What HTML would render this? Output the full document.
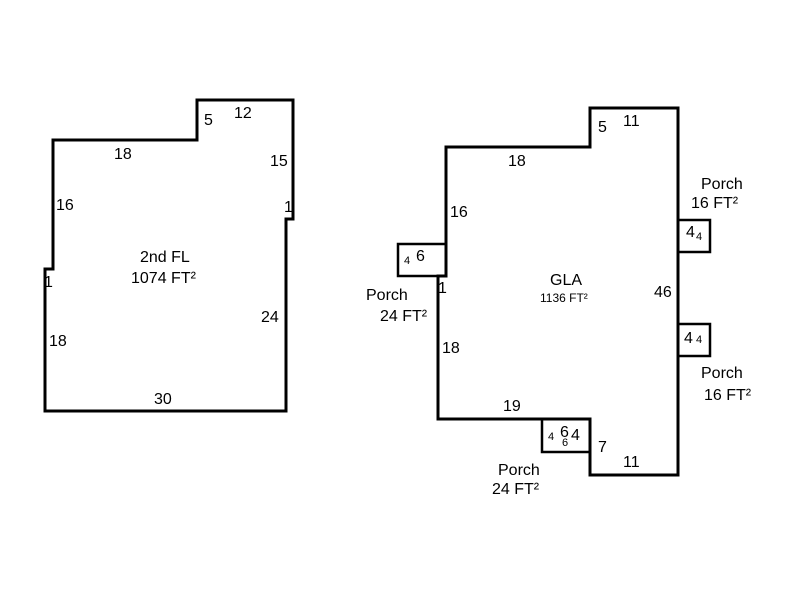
<!DOCTYPE html>
<html><head><style>
body{margin:0;background:#fff;}
svg text{font-family:"Liberation Sans",Arial,sans-serif;font-size:16px;fill:#000;}
</style></head><body>
<svg width="800" height="600" xmlns="http://www.w3.org/2000/svg">
<g fill="none" stroke="#000" stroke-width="3">
<polygon points="45,411 45,269 53,269 53,140 197,140 197,100 293,100 293,219 286,219 286,411"/>
<polygon points="446,147 590,147 590,108 678,108 678,475 590,475 590,419 438,419 438,276 446,276"/>
<rect x="398" y="244" width="48" height="32" stroke-width="2.5"/>
<rect x="678" y="220" width="32" height="32" stroke-width="2.5"/>
<rect x="678" y="324" width="32" height="32" stroke-width="2.5"/>
<rect x="542" y="419" width="48" height="33" stroke-width="2.5"/>
</g>
<text x="204" y="125">5</text>
<text x="234" y="118">12</text>
<text x="114" y="159">18</text>
<text x="270" y="166">15</text>
<text x="284" y="212">1</text>
<text x="56" y="210">16</text>
<text x="44" y="287">1</text>
<text x="140" y="262">2nd FL</text>
<text x="131" y="283">1074 FT²</text>
<text x="261" y="322">24</text>
<text x="49" y="346">18</text>
<text x="154" y="404">30</text>

<text x="598" y="132">5</text>
<text x="623" y="126">11</text>
<text x="508" y="166">18</text>
<text x="450" y="217">16</text>
<text x="404" y="264" style="font-size:11px">4</text>
<text x="416" y="261">6</text>
<text x="438" y="293">1</text>
<text x="366" y="300">Porch</text>
<text x="380" y="321">24 FT²</text>
<text x="550" y="285">GLA</text>
<text x="540" y="302" style="font-size:12px">1136 FT²</text>
<text x="654" y="297">46</text>
<text x="442" y="353">18</text>
<text x="701" y="189">Porch</text>
<text x="691" y="208">16 FT²</text>
<text x="686" y="237">4</text><text x="696" y="240" style="font-size:11px">4</text>
<text x="684" y="343">4</text><text x="696" y="343" style="font-size:11px">4</text>
<text x="701" y="378">Porch</text>
<text x="704" y="400">16 FT²</text>
<text x="503" y="411">19</text>
<text x="548" y="440" style="font-size:11px">4</text>
<text x="560" y="437">6</text>
<text x="562" y="446" style="font-size:11px">6</text>
<text x="571" y="440">4</text>
<text x="598" y="452">7</text>
<text x="623" y="467">11</text>
<text x="498" y="475">Porch</text>
<text x="492" y="494">24 FT²</text>
</svg>
</body></html>
